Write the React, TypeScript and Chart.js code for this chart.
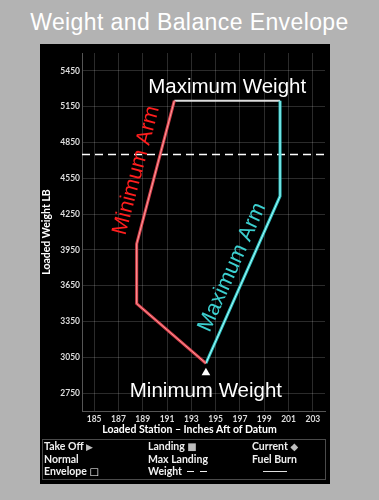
import React, { useEffect, useRef } from 'react';
import { Chart, registerables } from 'chart.js';

Chart.register(...registerables);

// ---- data ----
const xTickValues = [185, 187, 189, 191, 193, 195, 197, 199, 201, 203];
const yTickValues = [2750, 3050, 3350, 3650, 3950, 4250, 4550, 4850, 5150, 5450];
const stationRange = [184, 204];
const weightRange = [2600, 5600];

const minArmStation = [194.2, 188.5, 188.5, 191.6];
const minArmWeight = [3000, 3500, 4000, 5200];
const maxArmStation = [194.2, 200.3, 200.3];
const maxArmWeight = [3000, 4400, 5200];
const maxWeightStation = [191.6, 200.3];
const maxWeightValue = [5200, 5200];
const maxLandingWeight = 4750;
const minWeightMarkerStation = [194.2];
const minWeightMarkerWeight = [2920];

const toPoints = (xs: number[], ys: number[]) => xs.map((x, i) => ({ x, y: ys[i] }));

const FONT = 'Lato, "DejaVu Sans", sans-serif';

const labelPlugin = {
  id: 'wbLabels',
  afterDatasetsDraw(chart: any) {
    const { ctx, scales } = chart;
    const px = (v: number) => scales.x.getPixelForValue(v);
    const py = (v: number) => scales.y.getPixelForValue(v);
    ctx.save();
    ctx.textAlign = 'center';
    ctx.textBaseline = 'alphabetic';
    ctx.fillStyle = '#ffffff';
    ctx.font = '20.5px "Liberation Sans", Arial, sans-serif';
    ctx.fillText('Maximum Weight', (px(maxWeightStation[0]) + px(maxWeightStation[1])) / 2, py(maxWeightValue[0]) - 8);
    ctx.fillText('Minimum Weight', px(minArmStation[0]), py(minArmWeight[0]) + 34);

    const along = (x1: number, y1: number, x2: number, y2: number, text: string, color: string, perp: number, shift: number) => {
      const a1 = px(x1), b1 = py(y1), a2 = px(x2), b2 = py(y2);
      const dx = a2 - a1, dy = b2 - b1;
      const len = Math.hypot(dx, dy);
      const ux = dx / len, uy = dy / len;
      const cx = (a1 + a2) / 2 + uy * perp + ux * shift;
      const cy = (b1 + b2) / 2 - ux * perp + uy * shift;
      ctx.save();
      ctx.translate(cx, cy);
      ctx.rotate(Math.atan2(dy, dx));
      ctx.fillStyle = color;
      ctx.font = '21.5px "Liberation Sans", Arial, sans-serif';
      ctx.fillText(text, 0, 0);
      ctx.restore();
    };
    along(minArmStation[2], minArmWeight[2], minArmStation[3], minArmWeight[3], 'Minimum Arm', '#ff1e1e', 13, -3);
    along(maxArmStation[0], maxArmWeight[0], maxArmStation[1], maxArmWeight[1], 'Maximum Arm', '#3ccfcf', 9, 7);
    ctx.restore();
  },
};

export default function App() {
  const canvasRef = useRef<HTMLCanvasElement | null>(null);

  useEffect(() => {
    const canvas = canvasRef.current;
    if (!canvas) return;
    const grid = 'rgba(255,255,255,0.17)';
    const chart = new Chart(canvas, {
      type: 'scatter',
      data: {
        datasets: [
          {
            data: toPoints(minWeightMarkerStation, minWeightMarkerWeight),
            pointStyle: 'triangle',
            pointRadius: 5,
            backgroundColor: '#ffffff',
            borderColor: '#ffffff',
            borderWidth: 0,
            showLine: false,
            order: 0,
          },
          {
            data: toPoints(minArmStation, minArmWeight),
            showLine: true,
            borderColor: '#ff9c9c',
            borderWidth: 1,
            pointRadius: 0,
            order: 1,
          },
          {
            data: toPoints(maxArmStation, maxArmWeight),
            showLine: true,
            borderColor: '#a8ffff',
            borderWidth: 1,
            pointRadius: 0,
            order: 1,
          },
          {
            data: toPoints(minArmStation, minArmWeight),
            showLine: true,
            borderColor: '#d8404c',
            borderWidth: 3,
            pointRadius: 0,
            order: 2,
          },
          {
            data: toPoints(maxArmStation, maxArmWeight),
            showLine: true,
            borderColor: '#30c0c0',
            borderWidth: 3,
            pointRadius: 0,
            order: 2,
          },
          {
            data: toPoints(maxWeightStation, maxWeightValue),
            showLine: true,
            borderColor: '#dcdcdc',
            borderWidth: 2,
            pointRadius: 0,
            order: 3,
          },
          {
            data: toPoints(stationRange, [maxLandingWeight, maxLandingWeight]),
            showLine: true,
            borderColor: '#ffffff',
            borderWidth: 1.5,
            borderDash: [8, 5],
            pointRadius: 0,
            order: 4,
          },
        ],
      },
      options: {
        animation: false,
        responsive: false,
        maintainAspectRatio: false,
        devicePixelRatio: 1,
        layout: { padding: { left: 40, right: 54, top: 53, bottom: 63 } },
        plugins: { legend: { display: false }, tooltip: { enabled: false }, title: { display: false } },
        scales: {
          x: {
            type: 'linear',
            min: stationRange[0],
            max: stationRange[1],
            afterBuildTicks: (s: any) => {
              s.ticks = xTickValues.map((v) => ({ value: v }));
            },
            afterFit: (s: any) => {
              s.height = 26;
            },
            ticks: {
              autoSkip: false,
              maxRotation: 0,
              minRotation: 0,
              padding: 3,
              color: '#dddddd',
              font: { family: FONT, weight: 'bold', size: 8.5 },
              callback: (v: any) => String(v),
            },
            grid: { color: grid, drawTicks: false },
            border: { color: '#555555' },
          },
          y: {
            type: 'linear',
            min: weightRange[0],
            max: weightRange[1],
            afterBuildTicks: (s: any) => {
              s.ticks = yTickValues.map((v) => ({ value: v }));
            },
            afterFit: (s: any) => {
              s.width = 42;
            },
            ticks: {
              padding: 2,
              color: '#dddddd',
              font: { family: FONT, weight: 'bold', size: 8.5 },
              callback: (v: any) => String(v),
            },
            grid: { color: grid, drawTicks: false },
            border: { color: '#555555' },
            title: {
              display: true,
              text: 'Loaded Weight LB',
              color: '#ffffff',
              font: { family: FONT, weight: 'bold', size: 10.5 },
              padding: { top: 0, bottom: 0 },
            },
          },
        },
      },
      plugins: [labelPlugin],
    } as any);
    return () => chart.destroy();
  }, []);

  const legendText: React.CSSProperties = {
    position: 'absolute',
    color: '#f0f0f0',
    font: `bold 10.5px ${FONT}`,
    lineHeight: '12px',
    whiteSpace: 'nowrap',
  };
  const sym: React.CSSProperties = { fontFamily: '"DejaVu Sans", sans-serif', color: '#bdbdbd', fontWeight: 'normal' };

  return (
    <div style={{ position: 'absolute', left: 0, top: 0, width: 379, height: 500, background: '#b3b3b3', overflow: 'hidden' }}>
      <div
        style={{
          position: 'absolute',
          left: 0,
          top: 10,
          width: 379,
          textAlign: 'center',
          color: '#ffffff',
          font: '23px "Liberation Sans", Arial, sans-serif',
          letterSpacing: '0.4px',
          lineHeight: '24px',
          whiteSpace: 'nowrap',
        }}
      >
        Weight and Balance Envelope
      </div>
      <div style={{ position: 'absolute', left: 40, top: 44, width: 290, height: 440, background: '#000000' }} />
      <canvas ref={canvasRef} width={379} height={500} style={{ position: 'absolute', left: 0, top: 0, display: 'block' }} />
      <div style={{ ...legendText, left: 0, top: 423, width: 379, textAlign: 'center', color: '#ffffff' }}>
        Loaded Station – Inches Aft of Datum
      </div>
      <div style={{ position: 'absolute', left: 42, top: 439, width: 282, height: 39, border: '1px solid #4a4a4a' }} />

      <div style={{ ...legendText, left: 44, top: 440 }}>
        Take Off <span style={{ ...sym, fontSize: 9 }}>▶</span>
      </div>
      <div style={{ ...legendText, left: 44, top: 453 }}>Normal</div>
      <div style={{ ...legendText, left: 44, top: 465 }}>
        Envelope <span style={{ ...sym, fontSize: 10, color: '#ffffff' }}>□</span>
      </div>

      <div style={{ ...legendText, left: 148, top: 440 }}>
        Landing <span style={{ ...sym, fontSize: 10 }}>■</span>
      </div>
      <div style={{ ...legendText, left: 148, top: 453 }}>Max Landing</div>
      <div style={{ ...legendText, left: 148, top: 465 }}>Weight</div>
      <div style={{ position: 'absolute', left: 187, top: 471, width: 7, borderTop: '1.5px solid #f0f0f0' }} />
      <div style={{ position: 'absolute', left: 200, top: 471, width: 7, borderTop: '1.5px solid #f0f0f0' }} />

      <div style={{ ...legendText, left: 252, top: 440 }}>
        Current <span style={{ ...sym, fontSize: 10 }}>◆</span>
      </div>
      <div style={{ ...legendText, left: 252, top: 453 }}>Fuel Burn</div>
      <div style={{ position: 'absolute', left: 263, top: 471, width: 24, borderTop: '1.5px solid #e0e0e0' }} />
    </div>
  );
}
